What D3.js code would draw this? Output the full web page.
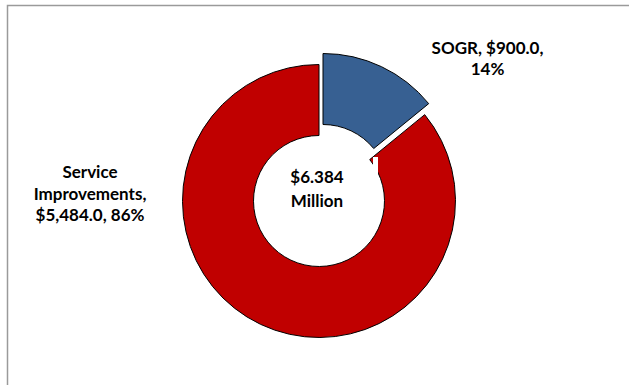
<!DOCTYPE html>
<html>
<head>
<meta charset="utf-8">
<script src="https://cdn.jsdelivr.net/npm/d3@7"></script>
<style>
  html, body { margin: 0; padding: 0; background: #fff; }
  svg { display: block; }
  .lbl { font-family: Lato, sans-serif; font-weight: bold; font-size: 17px; fill: #000; }
</style>
</head>
<body>
<div id="chart"></div>
<script>
// budget split, $ thousands
const categories = ['SOGR', 'Service Improvements']
const values = [900.0, 5484.0]
const colors = ['#376092', '#C00000']
const centerLines = ['$6.384', 'Million']

const width = 629, height = 385
const cx = 319, cy = 201
const outerR = 136.5, innerR = 65.5

const svg = d3.select('#chart').append('svg')
    .attr('width', width)
    .attr('height', height)

// chart frame
svg.append('path')
    .attr('d', `M7.5,${height} V5.5 H${width}`)
    .attr('fill', 'none')
    .attr('stroke', '#9a9a9a')
    .attr('stroke-width', 1.5)

const total = d3.sum(values)
const pie = d3.pie().sort(null).value(d => d)
const arc = d3.arc().innerRadius(innerR).outerRadius(outerR)
const arcs = pie(values)

// exploded slice offset
const explode = [[4, -11], [0, 0]]

const g = svg.append('g').attr('transform', `translate(${cx},${cy})`)

g.selectAll('path.slice')
  .data(arcs)
  .enter().append('path')
    .attr('class', 'slice')
    .attr('d', arc)
    .attr('transform', (d, i) => `translate(${explode[i][0]},${explode[i][1]})`)
    .attr('fill', (d, i) => colors[i])
    .attr('stroke', '#000')
    .attr('stroke-width', 1)
    .attr('stroke-linejoin', 'round')

// small white leader-line remnant
g.append('rect')
    .attr('x', 54).attr('y', -44)
    .attr('width', 5).attr('height', 18)
    .attr('fill', '#fff')

const fmt = d3.format(',.1f')
const pct = d3.format('.0%')

const labelLines = [
  [`${categories[0]}, $${fmt(values[0])},`, `${pct(values[0] / total)}`],
  ['Service', 'Improvements,', `$${fmt(values[1])}, ${pct(values[1] / total)}`]
]
const labelPos = [[487.5, 53.5], [90, 178]]
const lineH = 21.5

labelLines.forEach((lines, i) => {
  const t = svg.append('text')
      .attr('class', 'lbl')
      .attr('text-anchor', 'middle')
  t.selectAll('tspan')
    .data(lines)
    .enter().append('tspan')
      .attr('x', labelPos[i][0])
      .attr('y', (d, j) => labelPos[i][1] + j * lineH)
      .text(d => d)
})

svg.append('text')
    .attr('class', 'lbl')
    .attr('text-anchor', 'middle')
  .selectAll('tspan')
  .data(centerLines)
  .enter().append('tspan')
    .attr('x', 317)
    .attr('y', (d, j) => 183 + j * 24)
    .text(d => d)
</script>
</body>
</html>
